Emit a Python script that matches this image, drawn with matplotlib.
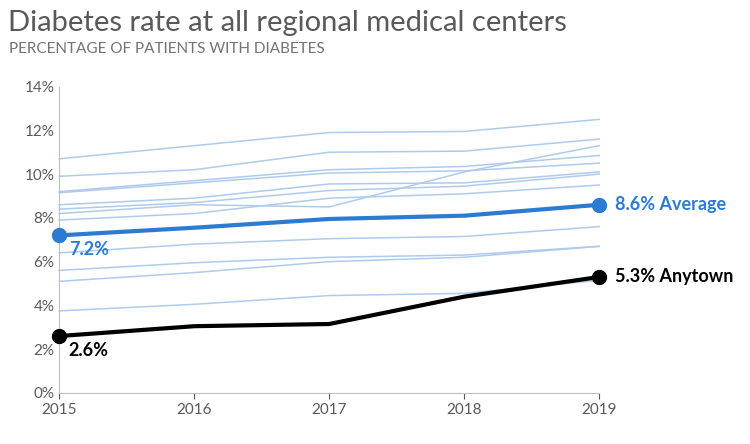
import matplotlib
matplotlib.use("Agg")
from matplotlib import pyplot as plt

plt.rcParams['font.family'] = ['Lato', 'DejaVu Sans']

years = [2015, 2016, 2017, 2018, 2019]
others = [
    [10.7, 11.3, 11.9, 11.95, 12.5],
    [9.9, 10.2, 11.0, 11.05, 11.6],
    [9.2, 9.7, 10.2, 10.35, 10.85],
    [9.15, 9.6, 10.05, 10.15, 10.5],
    [8.6, 8.9, 9.55, 9.6, 10.1],
    [8.4, 8.7, 9.25, 9.45, 10.0],
    [8.2, 8.6, 8.5, 10.1, 11.3],
    [7.9, 8.2, 8.9, 9.1, 9.5],
    [6.4, 6.8, 7.05, 7.15, 7.6],
    [5.6, 5.95, 6.2, 6.3, 6.7],
    [5.1, 5.5, 6.0, 6.2, 6.7],
    [3.75, 4.05, 4.45, 4.55, 5.15],
]
average = [7.2, 7.55, 7.95, 8.1, 8.6]
anytown = [2.6, 3.05, 3.15, 4.4, 5.3]

blue = '#2b7bd3'
fig = plt.figure(figsize=(7.5, 4.44), dpi=100)
ax = fig.add_axes([0.079, 0.115, 0.72, 0.69])

for s in others:
    ax.plot(years, s, color='#aecbed', lw=1.1, zorder=1)
ax.plot(years, average, color=blue, lw=3, zorder=3)
ax.plot([years[0], years[-1]], [average[0], average[-1]], 'o', color=blue, ms=10, zorder=4)
ax.plot(years, anytown, color='black', lw=3, zorder=3)
ax.plot([years[0], years[-1]], [anytown[0], anytown[-1]], 'o', color='black', ms=10, zorder=4)

ax.text(years[0] + 0.07, average[0] - 0.25, f'{average[0]}%', color=blue, fontsize=13, fontweight='bold', va='top')
ax.text(years[-1] + 0.12, average[-1], f'{average[-1]}% Average', color=blue, fontsize=13, fontweight='bold', va='center')
ax.text(years[0] + 0.07, anytown[0] - 0.25, f'{anytown[0]}%', color='black', fontsize=13, fontweight='bold', va='top')
ax.text(years[-1] + 0.12, anytown[-1], f'{anytown[-1]}% Anytown', color='black', fontsize=13, fontweight='bold', va='center')

ax.set_xlim(2015, 2019)
ax.set_ylim(0, 14)
ax.set_xticks(years)
ax.set_yticks(range(0, 15, 2))
ax.set_yticklabels([f'{v}%' for v in range(0, 15, 2)])
ax.tick_params(colors='#595959', labelsize=11, length=4)
ax.tick_params(axis='y', length=0)
for sp in ['top', 'right']:
    ax.spines[sp].set_visible(False)
ax.spines['left'].set_color('#bfbfbf')
ax.spines['bottom'].set_color('#bfbfbf')
ax.set_clip_on(False)
for l in ax.lines:
    l.set_clip_on(False)

fig.text(0.01, 0.93, 'Diabetes rate at all regional medical centers', fontsize=21, color='#595959')
fig.text(0.012, 0.88, 'PERCENTAGE OF PATIENTS WITH DIABETES', fontsize=11, color='#737373')

fig.savefig('out.png', dpi=100)
